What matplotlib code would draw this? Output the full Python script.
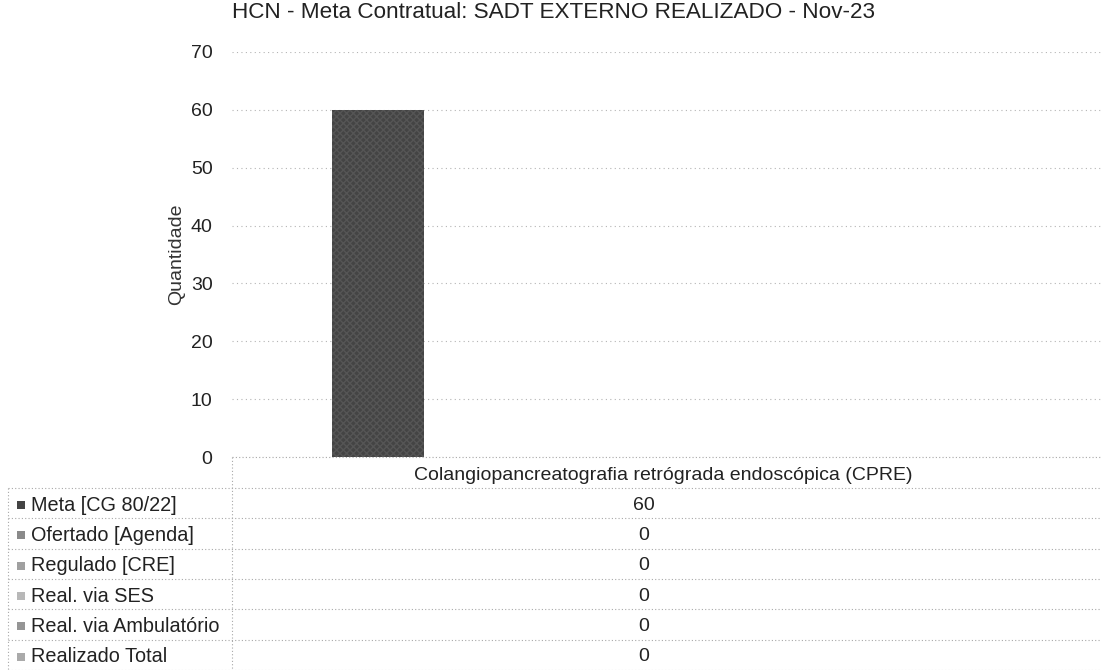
import matplotlib
matplotlib.use("Agg")
import matplotlib.pyplot as plt
from matplotlib.lines import Line2D
from matplotlib.patches import Rectangle

plt.rcParams['font.family'] = ['Liberation Sans', 'DejaVu Sans']

# ---- data ----
title = "HCN - Meta Contratual: SADT EXTERNO REALIZADO - Nov-23"
categories = ["Colangiopancreatografia retrógrada endoscópica (CPRE)"]
series_names = ["Meta [CG 80/22]", "Ofertado [Agenda]", "Regulado [CRE]",
                "Real. via SES", "Real. via Ambulatório", "Realizado Total"]
meta = [60]
ofertado = [0]
regulado = [0]
real_ses = [0]
real_amb = [0]
realizado_total = [0]
series_values = [meta, ofertado, regulado, real_ses, real_amb, realizado_total]
series_colors = ["#444444", "#8a8a8a", "#a0a0a0", "#b8b8b8", "#959595", "#aaaaaa"]
y_ticks = [0, 10, 20, 30, 40, 50, 60, 70]

W, H = 1101, 670
fig = plt.figure(figsize=(W / 100, H / 100), dpi=100)

def fx(px):
    return px / W

def fy(py):
    return 1 - py / H

ax_left, ax_right, ax_top, ax_bottom = 232, 1101, 52, 457
ax = fig.add_axes([fx(ax_left), fy(ax_bottom), fx(ax_right - ax_left), (ax_bottom - ax_top) / H])

n = len(series_names)
step = 0.1328
width = 0.106
for i, (vals, col) in enumerate(zip(series_values, series_colors)):
    xs = [c + (i - (n - 1) / 2) * step for c in range(len(categories))]
    ax.bar(xs, vals, width=width, color=col, linewidth=0, zorder=3,
           hatch="xxxxx" if i == 0 else None, edgecolor="#555555")

ax.set_xlim(-0.5, len(categories) - 0.5)
ax.set_ylim(0, 70)
ax.set_yticks(y_ticks)
ax.set_xticks([])
ax.tick_params(axis='y', length=0, pad=14, labelsize=14, labelcolor="#222222")
ax.grid(axis='y', color="#b4b4b4", linestyle=(0, (1, 3)), linewidth=0.8, zorder=0)
for s in ax.spines.values():
    s.set_visible(False)
ax.set_ylabel("Quantidade", fontsize=14, color="#333333", labelpad=4)

fig.text(fx(554), fy(13), title, ha='center', va='center', fontsize=16.2, color="#222222")

# ---- data table ----
line_kw = dict(color="#a8a8a8", linestyle=(0, (1, 2)), linewidth=0.8)
left_edge = 8
header_bottom = 488
row_h = 30.3
fig.add_artist(Line2D([fx(ax_left), fx(ax_right)], [fy(ax_bottom), fy(ax_bottom)], **line_kw))
for r in range(n + 1):
    yy = header_bottom + r * row_h
    fig.add_artist(Line2D([fx(left_edge), fx(W)], [fy(yy), fy(yy)], **line_kw))
fig.add_artist(Line2D([fx(ax_left), fx(ax_left)], [fy(ax_bottom), fy(H)], **line_kw))
fig.add_artist(Line2D([fx(left_edge), fx(left_edge)], [fy(header_bottom), fy(H)], **line_kw))

fig.text(fx(663), fy(475), categories[0], ha='center', va='center', fontsize=14, color="#222222")

for r, (name, vals, col) in enumerate(zip(series_names, series_values, series_colors)):
    yc = header_bottom + (r + 0.5) * row_h + 2
    fig.add_artist(Rectangle((fx(17), fy(yc + 4)), fx(8), 8 / H, facecolor=col,
                             edgecolor="none", linewidth=0))
    fig.text(fx(31), fy(yc), name, ha='left', va='center', fontsize=14.3, color="#222222")
    fig.text(fx(644), fy(yc), f"{vals[0]:g}", ha='center', va='center', fontsize=14, color="#222222")

fig.savefig("out.png", dpi=100)
